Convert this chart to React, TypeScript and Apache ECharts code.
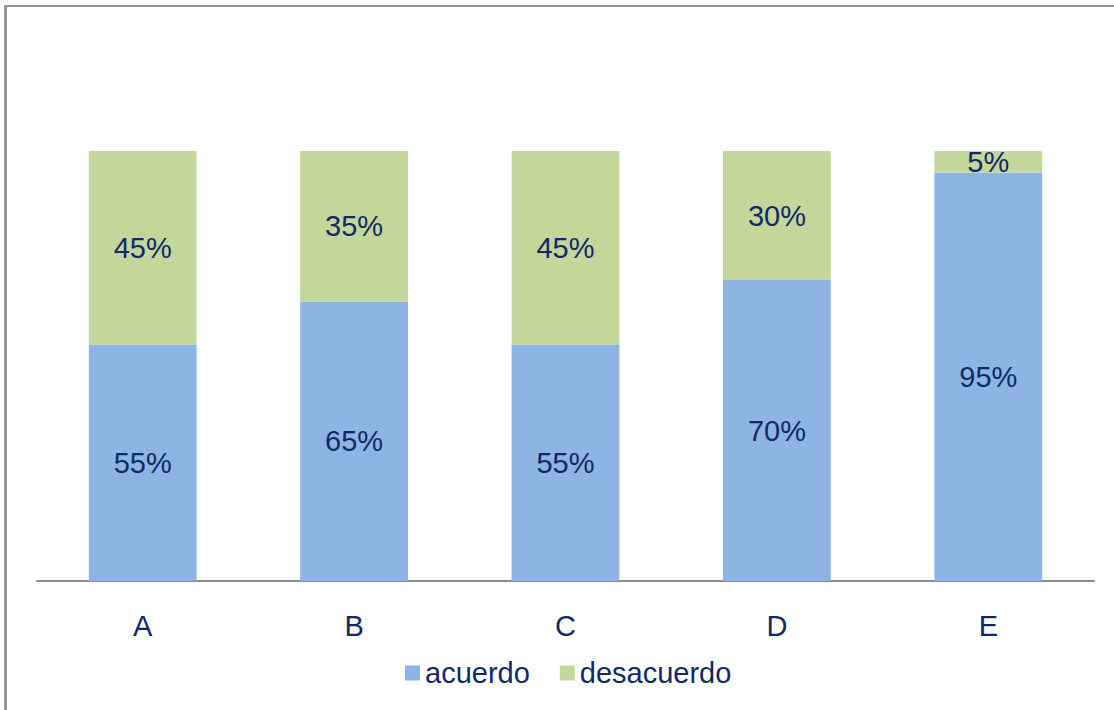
import React, { useEffect, useRef } from "react";
import * as echarts from "echarts";

const categories = ["A", "B", "C", "D", "E"];
const acuerdo = [55, 65, 55, 70, 95];
const desacuerdo = [45, 35, 45, 30, 5];

const TEXT = "#0F2A66";
const FONT = "'Liberation Sans', Arial, sans-serif";

export default function App() {
  const ref = useRef<HTMLDivElement>(null);

  useEffect(() => {
    if (!ref.current) return;
    const chart = echarts.init(ref.current, null, { renderer: "svg" });
    const label = {
      show: true,
      position: "inside" as const,
      formatter: "{c}%",
      color: TEXT,
      fontSize: 29,
      fontFamily: FONT,
    };
    chart.setOption({
      animation: false,
      backgroundColor: "#ffffff",
      textStyle: { fontFamily: FONT },
      graphic: [
        { type: "rect", shape: { x: 4, y: 5, width: 3, height: 705 }, style: { fill: "#969696" } },
        { type: "rect", shape: { x: 4, y: 5, width: 1110, height: 2 }, style: { fill: "#969696" } },
      ],
      grid: { left: 37, right: 20, top: 151, bottom: 129 },
      legend: {
        left: 405,
        top: 658,
        padding: 0,
        itemWidth: 15,
        itemHeight: 15,
        itemGap: 30,
        icon: "rect",
        textStyle: { color: TEXT, fontSize: 29, fontFamily: FONT, lineHeight: 30 },
        data: ["acuerdo", "desacuerdo"],
      },
      xAxis: {
        type: "category",
        data: categories,
        axisLine: { lineStyle: { color: "#8c8c8c", width: 2 } },
        axisTick: { show: false },
        axisLabel: { color: TEXT, fontSize: 29, fontFamily: FONT, margin: 30 },
      },
      yAxis: {
        type: "value",
        min: 0,
        max: 100,
        show: false,
        splitLine: { show: false },
      },
      series: [
        {
          name: "acuerdo",
          type: "bar",
          stack: "total",
          barWidth: "51%",
          data: acuerdo,
          itemStyle: { color: "#8EB4E3" },
          label,
        },
        {
          name: "desacuerdo",
          type: "bar",
          stack: "total",
          barWidth: "51%",
          data: desacuerdo,
          itemStyle: { color: "#C4D79B" },
          label,
        },
      ],
    });
    return () => chart.dispose();
  }, []);

  return (
    <div
      ref={ref}
      style={{ position: "fixed", left: 0, top: 0, width: 1114, height: 710 }}
    />
  );
}
